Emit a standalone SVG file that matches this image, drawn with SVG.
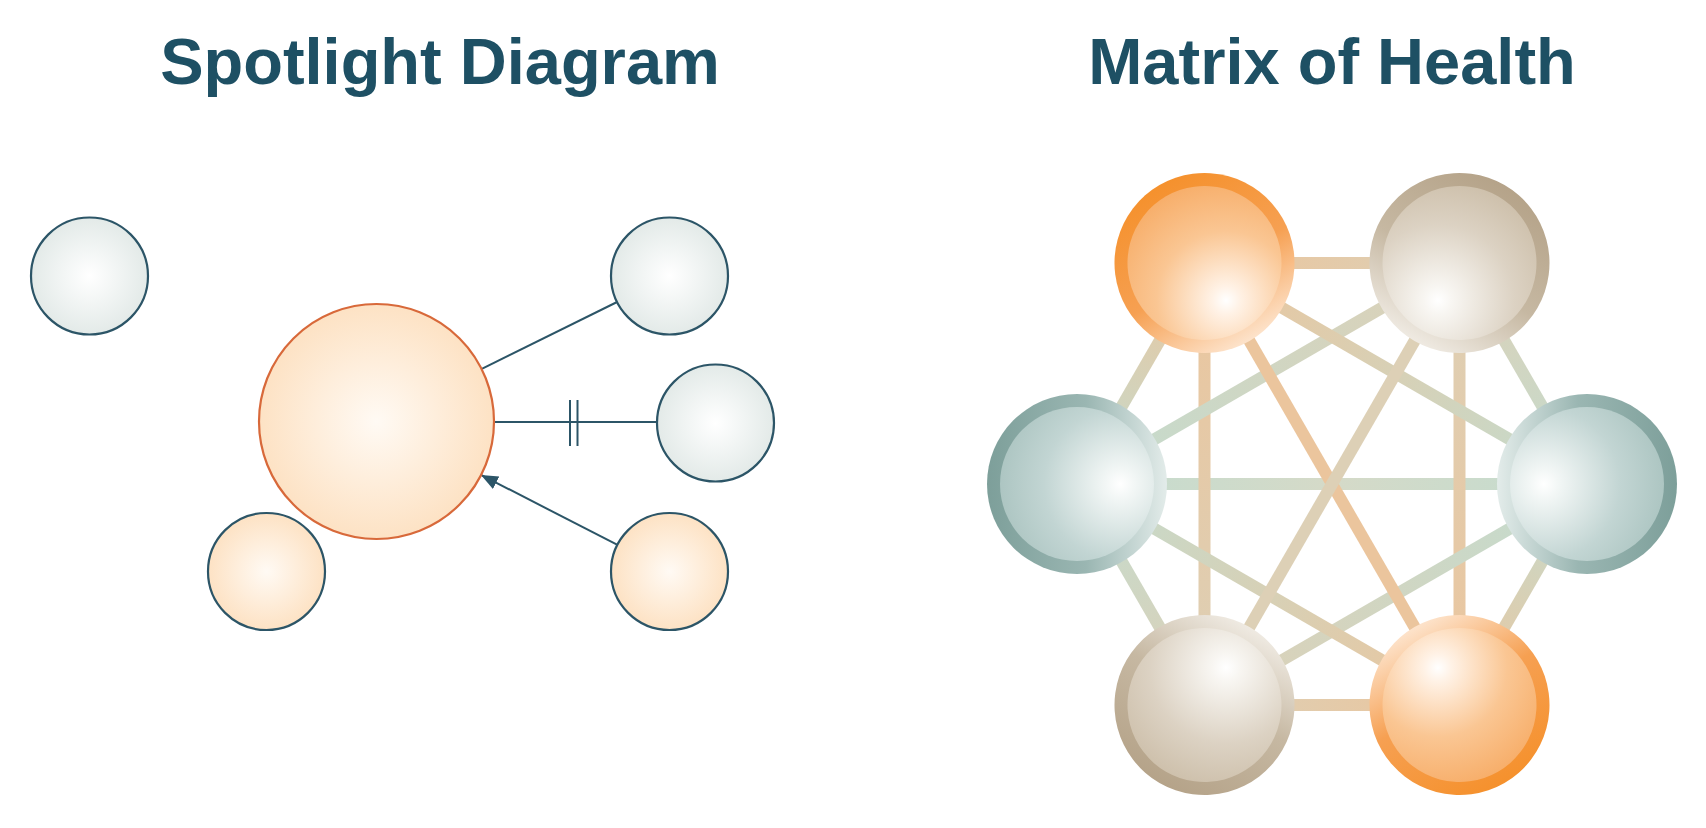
<svg xmlns="http://www.w3.org/2000/svg" width="1706" height="828" viewBox="0 0 1706 828">
<style>
.title{font-family:"Liberation Sans",Arial,sans-serif;font-weight:bold;font-size:65px;fill:#1e5064;text-anchor:middle}
.sn{stroke:#2c5567;stroke-width:2.2}
.big{stroke:#d8693a;stroke-width:2.2}
.conn{stroke:#2c5567;stroke-width:2;fill:none}
.mx{stroke-width:12;fill:none}
</style>
<defs>
<radialGradient id="lg"><stop offset="0" stop-color="#ffffff"/><stop offset="1" stop-color="#e3eae8"/></radialGradient>
<radialGradient id="lo"><stop offset="0" stop-color="#fffaf4"/><stop offset="1" stop-color="#fde2c4"/></radialGradient>
<marker id="arr" markerUnits="userSpaceOnUse" markerWidth="20" markerHeight="16" refX="17" refY="7" orient="auto"><path d="M0,0 L17,7 L0,14 Z" fill="#2c5567"/></marker>
<linearGradient id="ro" x1="0" y1="0.5" x2="1" y2="0.5"><stop offset="0" stop-color="#f5912d"/><stop offset="0.55" stop-color="#f6a052"/><stop offset="1" stop-color="#fde3cb"/></linearGradient>
<radialGradient id="io" cx="0.78" cy="0.5" r="0.9" fx="0.78" fy="0.5"><stop offset="0" stop-color="#ffffff"/><stop offset="0.1" stop-color="#fff2e6"/><stop offset="0.5" stop-color="#fac693"/><stop offset="1" stop-color="#f6a65c"/></radialGradient>
<linearGradient id="rb" x1="0" y1="0.5" x2="1" y2="0.5"><stop offset="0" stop-color="#b5a389"/><stop offset="0.55" stop-color="#c6b8a2"/><stop offset="1" stop-color="#efeae2"/></linearGradient>
<radialGradient id="ib" cx="0.78" cy="0.5" r="0.9" fx="0.78" fy="0.5"><stop offset="0" stop-color="#ffffff"/><stop offset="0.1" stop-color="#f8f6f2"/><stop offset="0.55" stop-color="#dcd2c3"/><stop offset="1" stop-color="#c8b9a2"/></radialGradient>
<linearGradient id="rt" x1="0" y1="0.5" x2="1" y2="0.5"><stop offset="0" stop-color="#7d9f9a"/><stop offset="0.55" stop-color="#9ab6b2"/><stop offset="1" stop-color="#e3ecea"/></linearGradient>
<radialGradient id="it" cx="0.78" cy="0.5" r="0.9" fx="0.78" fy="0.5"><stop offset="0" stop-color="#ffffff"/><stop offset="0.1" stop-color="#f3f7f6"/><stop offset="0.55" stop-color="#c2d5d3"/><stop offset="1" stop-color="#a4bfbb"/></radialGradient>
<linearGradient id="gAB" gradientUnits="userSpaceOnUse" x1="1204.5" y1="263" x2="1459.5" y2="263"><stop offset="0" stop-color="#ebc59d"/><stop offset="1" stop-color="#ddd0b6"/></linearGradient>
<linearGradient id="gAC" gradientUnits="userSpaceOnUse" x1="1204.5" y1="263" x2="1077" y2="484"><stop offset="0" stop-color="#ebc59d"/><stop offset="1" stop-color="#c3dccf"/></linearGradient>
<linearGradient id="gAD" gradientUnits="userSpaceOnUse" x1="1204.5" y1="263" x2="1587" y2="484"><stop offset="0" stop-color="#ebc59d"/><stop offset="1" stop-color="#c3dccf"/></linearGradient>
<linearGradient id="gAE" gradientUnits="userSpaceOnUse" x1="1204.5" y1="263" x2="1204.5" y2="705"><stop offset="0" stop-color="#ebc59d"/><stop offset="1" stop-color="#ddd0b6"/></linearGradient>
<linearGradient id="gAF" gradientUnits="userSpaceOnUse" x1="1204.5" y1="263" x2="1459.5" y2="705"><stop offset="0" stop-color="#ebc59d"/><stop offset="1" stop-color="#ebc59d"/></linearGradient>
<linearGradient id="gBC" gradientUnits="userSpaceOnUse" x1="1459.5" y1="263" x2="1077" y2="484"><stop offset="0" stop-color="#ddd0b6"/><stop offset="1" stop-color="#c3dccf"/></linearGradient>
<linearGradient id="gBD" gradientUnits="userSpaceOnUse" x1="1459.5" y1="263" x2="1587" y2="484"><stop offset="0" stop-color="#ddd0b6"/><stop offset="1" stop-color="#c3dccf"/></linearGradient>
<linearGradient id="gBE" gradientUnits="userSpaceOnUse" x1="1459.5" y1="263" x2="1204.5" y2="705"><stop offset="0" stop-color="#ddd0b6"/><stop offset="1" stop-color="#ddd0b6"/></linearGradient>
<linearGradient id="gBF" gradientUnits="userSpaceOnUse" x1="1459.5" y1="263" x2="1459.5" y2="705"><stop offset="0" stop-color="#ddd0b6"/><stop offset="1" stop-color="#ebc59d"/></linearGradient>
<linearGradient id="gCD" gradientUnits="userSpaceOnUse" x1="1077" y1="484" x2="1587" y2="484"><stop offset="0" stop-color="#c3dccf"/><stop offset="0.5" stop-color="#d5dac8"/><stop offset="1" stop-color="#c3dccf"/></linearGradient>
<linearGradient id="gCE" gradientUnits="userSpaceOnUse" x1="1077" y1="484" x2="1204.5" y2="705"><stop offset="0" stop-color="#c3dccf"/><stop offset="1" stop-color="#ddd0b6"/></linearGradient>
<linearGradient id="gCF" gradientUnits="userSpaceOnUse" x1="1077" y1="484" x2="1459.5" y2="705"><stop offset="0" stop-color="#c3dccf"/><stop offset="1" stop-color="#ebc59d"/></linearGradient>
<linearGradient id="gDE" gradientUnits="userSpaceOnUse" x1="1587" y1="484" x2="1204.5" y2="705"><stop offset="0" stop-color="#c3dccf"/><stop offset="1" stop-color="#ddd0b6"/></linearGradient>
<linearGradient id="gDF" gradientUnits="userSpaceOnUse" x1="1587" y1="484" x2="1459.5" y2="705"><stop offset="0" stop-color="#c3dccf"/><stop offset="1" stop-color="#ebc59d"/></linearGradient>
<linearGradient id="gEF" gradientUnits="userSpaceOnUse" x1="1204.5" y1="705" x2="1459.5" y2="705"><stop offset="0" stop-color="#ddd0b6"/><stop offset="1" stop-color="#ebc59d"/></linearGradient>
</defs>
<rect width="1706" height="828" fill="#ffffff"/>
<text id="title-left" class="title" x="440" y="84">Spotlight Diagram</text>
<text id="title-right" class="title" x="1332" y="84">Matrix of Health</text>

<g id="spotlight-connectors">
<line class="conn" x1="481.8" y1="368.8" x2="617.1" y2="302"/>
<line class="conn" x1="494" y1="422" x2="656.6" y2="422"/>
<line class="conn" x1="570" y1="400" x2="570" y2="446"/>
<line class="conn" x1="577.5" y1="400" x2="577.5" y2="446"/>
<line class="conn" x1="617.5" y1="544.9" x2="481" y2="474.9" marker-end="url(#arr)"/>
</g>
<g id="node-isolated"><circle class="sn" cx="89.5" cy="276" r="58.5" fill="url(#lg)"/></g>
<g id="node-center"><circle class="big" cx="376.5" cy="421.5" r="117.5" fill="url(#lo)"/></g>
<g id="node-top-right"><circle class="sn" cx="669.5" cy="276" r="58.5" fill="url(#lg)"/></g>
<g id="node-mid-right"><circle class="sn" cx="715.5" cy="423" r="58.5" fill="url(#lg)"/></g>
<g id="node-bottom-right"><circle class="sn" cx="669.5" cy="571.5" r="58.5" fill="url(#lo)"/></g>
<g id="node-bottom-left"><circle class="sn" cx="266.5" cy="571.5" r="58.5" fill="url(#lo)"/></g>

<g id="matrix-connectors">
<line class="mx" stroke="url(#gAB)" x1="1204.5" y1="263" x2="1459.5" y2="263"/>
<line class="mx" stroke="url(#gAC)" x1="1204.5" y1="263" x2="1077" y2="484"/>
<line class="mx" stroke="url(#gBD)" x1="1459.5" y1="263" x2="1587" y2="484"/>
<line class="mx" stroke="url(#gCE)" x1="1077" y1="484" x2="1204.5" y2="705"/>
<line class="mx" stroke="url(#gDF)" x1="1587" y1="484" x2="1459.5" y2="705"/>
<line class="mx" stroke="url(#gEF)" x1="1204.5" y1="705" x2="1459.5" y2="705"/>
<line class="mx" stroke="url(#gCD)" x1="1077" y1="484" x2="1587" y2="484"/>
<line class="mx" stroke="url(#gAE)" x1="1204.5" y1="263" x2="1204.5" y2="705"/>
<line class="mx" stroke="url(#gBF)" x1="1459.5" y1="263" x2="1459.5" y2="705"/>
<line class="mx" stroke="url(#gBC)" x1="1459.5" y1="263" x2="1077" y2="484"/>
<line class="mx" stroke="url(#gDE)" x1="1587" y1="484" x2="1204.5" y2="705"/>
<line class="mx" stroke="url(#gAD)" x1="1204.5" y1="263" x2="1587" y2="484"/>
<line class="mx" stroke="url(#gCF)" x1="1077" y1="484" x2="1459.5" y2="705"/>
<line class="mx" stroke="url(#gAF)" x1="1204.5" y1="263" x2="1459.5" y2="705"/>
<line class="mx" stroke="url(#gBE)" x1="1459.5" y1="263" x2="1204.5" y2="705"/>
</g>

<g id="m-top-left" transform="rotate(60 1204.5 263)"><circle cx="1204.5" cy="263" r="90" fill="url(#ro)"/><circle cx="1204.5" cy="263" r="77" fill="url(#io)"/></g>
<g id="m-top-right" transform="rotate(120 1459.5 263)"><circle cx="1459.5" cy="263" r="90" fill="url(#rb)"/><circle cx="1459.5" cy="263" r="77" fill="url(#ib)"/></g>
<g id="m-mid-left"><circle cx="1077" cy="484" r="90" fill="url(#rt)"/><circle cx="1077" cy="484" r="77" fill="url(#it)"/></g>
<g id="m-mid-right" transform="rotate(180 1587 484)"><circle cx="1587" cy="484" r="90" fill="url(#rt)"/><circle cx="1587" cy="484" r="77" fill="url(#it)"/></g>
<g id="m-bottom-left" transform="rotate(-60 1204.5 705)"><circle cx="1204.5" cy="705" r="90" fill="url(#rb)"/><circle cx="1204.5" cy="705" r="77" fill="url(#ib)"/></g>
<g id="m-bottom-right" transform="rotate(-120 1459.5 705)"><circle cx="1459.5" cy="705" r="90" fill="url(#ro)"/><circle cx="1459.5" cy="705" r="77" fill="url(#io)"/></g>
</svg>
